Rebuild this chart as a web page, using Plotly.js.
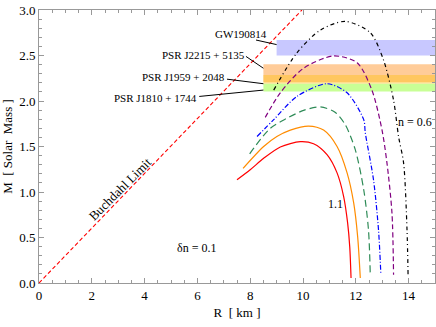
<!DOCTYPE html>
<html>
<head>
<meta charset="utf-8">
<script src="https://cdn.plot.ly/plotly-3.0.1.min.js"></script>
<style>
  html, body { margin: 0; padding: 0; background: #fff; }
  #chart { width: 436px; height: 327px; }
</style>
</head>
<body>
<div id="chart"></div>
<script>
// Mass-radius curves, one per polytropic index n (R in km, M in solar masses)
const r11 = [7.50, 8.00, 8.51, 9.14, 9.90, 10.40, 10.91, 11.29, 11.54, 11.69, 11.77, 11.82];
const m11 = [1.135, 1.245, 1.37, 1.495, 1.553, 1.53, 1.41, 1.21, 0.95, 0.66, 0.40, 0.055];
const r10 = [7.73, 8.51, 9.01, 9.52, 10.21, 10.78, 11.29, 11.67, 11.92, 12.07, 12.17];
const m10 = [1.26, 1.50, 1.61, 1.68, 1.725, 1.68, 1.50, 1.21, 0.88, 0.51, 0.055];
const r09 = [7.98, 8.76, 9.39, 10.05, 10.66, 11.20, 11.60, 11.98, 12.30, 12.48, 12.55];
const m09 = [1.42, 1.70, 1.81, 1.90, 1.935, 1.88, 1.74, 1.465, 1.025, 0.585, 0.07];
const r08 = [8.26, 8.89, 9.77, 10.91, 11.67, 12.30, 12.36, 12.67, 12.86, 12.95];
const m08 = [1.61, 1.795, 2.05, 2.19, 2.09, 1.795, 1.65, 1.135, 0.585, 0.09];
const r07 = [8.57, 9.14, 10.02, 11.16, 12.05, 12.61, 12.99, 13.18, 13.37, 13.43];
const m07 = [1.82, 2.09, 2.36, 2.495, 2.42, 2.12, 1.685, 1.32, 0.77, 0.09];
const r06 = [8.89, 9.77, 10.66, 11.60, 12.55, 13.05, 13.43, 13.62, 13.81, 13.94, 13.98];
const m06 = [2.12, 2.53, 2.78, 2.875, 2.75, 2.45, 2.01, 1.61, 1.32, 0.585, 0.09];

const curveR = [r11, r10, r09, r08, r07, r06];
const curveM = [m11, m10, m09, m08, m07, m06];
const curveColors = ['#ff0000', '#ff8c00', '#2e8b57', '#0000ff', '#800080', '#000000'];
const curveDashes = ['solid', 'solid', '7px,4px', '5px,2px,1px,2px', '5px,3px', '4px,3px,1px,3px'];

// Buchdahl limit line end points
const buchR = [0, 9.96];
const buchM = [0, 3.0];

// Observational mass bands
const bandNames = ['GW190814', 'PSR J2215 + 5135', 'PSR J1959 + 2048', 'PSR J1810 + 1744'];
const bandRmin = [9.0, 8.5, 8.5, 8.5];
const bandLow = [2.50, 2.21, 2.19, 2.105];
const bandHigh = [2.67, 2.405, 2.286, 2.19];
const bandColors = ['rgba(200,200,255,1)', 'rgba(255,204,153,1)', 'rgba(255,195,50,0.55)', 'rgba(200,255,150,1)'];

// Label positions (text anchor, right side) and leader line ends
const labelR = [8.72, 7.88, 7.12, 6.07];
const labelM = [2.74, 2.51, 2.26, 2.03];
const leadR0 = [8.22, 7.84, 7.12, 6.07];
const leadM0 = [2.67, 2.49, 2.24, 2.05];
const leadR1 = [9.0, 8.5, 8.5, 8.5];
const leadM1 = [2.62, 2.36, 2.19, 2.12];

const traces = [];

curveR.forEach((r, i) => {
    traces.push({
        x: r,
        y: curveM[i],
        type: 'scatter',
        mode: 'lines',
        line: { color: curveColors[i], width: 1.2, dash: curveDashes[i], shape: 'spline', smoothing: 0.8 },
        showlegend: false,
        hoverinfo: 'skip'
    });
});

traces.push({
    x: buchR,
    y: buchM,
    type: 'scatter',
    mode: 'lines',
    line: { color: '#ff0000', width: 1.1, dash: '4px,2.5px' },
    showlegend: false,
    hoverinfo: 'skip'
});

bandNames.forEach((name, i) => {
    traces.push({
        x: [leadR0[i], leadR1[i]],
        y: [leadM0[i], leadM1[i]],
        type: 'scatter',
        mode: 'lines',
        line: { color: '#000', width: 1 },
        showlegend: false,
        hoverinfo: 'skip'
    });
});

const shapes = bandNames.map((name, i) => ({
    type: 'rect',
    xref: 'x',
    yref: 'y',
    x0: bandRmin[i],
    x1: 15,
    y0: bandLow[i],
    y1: bandHigh[i],
    fillcolor: bandColors[i],
    line: { width: 0 },
    layer: 'below'
}));

const serif = 'Liberation Serif, Times New Roman, serif';
const textFont = { family: serif, size: 11, color: '#000' };
const noteFont = { family: serif, size: 12, color: '#000' };

const annotations = bandNames.map((name, i) => ({
    x: labelR[i],
    y: labelM[i],
    xref: 'x',
    yref: 'y',
    text: name,
    showarrow: false,
    xanchor: 'right',
    yanchor: 'middle',
    font: textFont
}));

annotations.push(
    { x: 3.05, y: 1.03, xref: 'x', yref: 'y', text: 'Buchdahl Limit', textangle: -45, showarrow: false,
      font: { family: serif, size: 13, color: '#000' } },
    { x: 5.98, y: 0.39, xref: 'x', yref: 'y', text: 'δn = 0.1', showarrow: false, font: noteFont },
    { x: 11.22, y: 0.87, xref: 'x', yref: 'y', text: '1.1', showarrow: false, font: noteFont },
    { x: 14.23, y: 1.77, xref: 'x', yref: 'y', text: 'n = 0.6', showarrow: false, font: noteFont }
);

const tickFont = { family: serif, size: 13, color: '#000' };

const layout = {
    width: 436,
    height: 327,
    margin: { l: 39, r: 1, t: 10, b: 44 },
    paper_bgcolor: '#fff',
    plot_bgcolor: '#fff',
    showlegend: false,
    xaxis: {
        range: [0, 15],
        tick0: 0,
        dtick: 2,
        ticks: 'inside',
        ticklen: 5,
        tickcolor: '#999',
        minor: { dtick: 0.5, ticks: 'inside', ticklen: 3, tickcolor: '#999' },
        showline: true,
        linecolor: '#999',
        linewidth: 1,
        mirror: 'allticks',
        showgrid: false,
        zeroline: false,
        tickfont: tickFont,
        title: { text: 'R  [ km ]', font: tickFont, standoff: 6 }
    },
    yaxis: {
        range: [0, 3],
        tick0: 0,
        dtick: 0.5,
        tickformat: '.1f',
        ticks: 'inside',
        ticklen: 5,
        tickcolor: '#999',
        minor: { dtick: 0.1, ticks: 'inside', ticklen: 3, tickcolor: '#999' },
        showline: true,
        linecolor: '#999',
        linewidth: 1,
        mirror: 'allticks',
        showgrid: false,
        zeroline: false,
        tickfont: tickFont,
        title: { text: 'M  [ Solar  Mass ]', font: tickFont, standoff: 4 }
    },
    shapes: shapes,
    annotations: annotations
};

Plotly.newPlot('chart', traces, layout, { staticPlot: true, displayModeBar: false });
</script>
</body>
</html>
